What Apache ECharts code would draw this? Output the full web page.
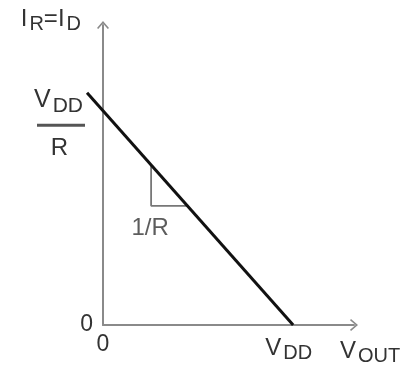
<!DOCTYPE html>
<html>
<head>
<meta charset="utf-8">
<script src="https://cdn.jsdelivr.net/npm/echarts@6/dist/echarts.min.js"></script>
<style>
  html, body { margin: 0; padding: 0; background: #fff; }
  #chart { width: 404px; height: 376px; }
</style>
</head>
<body>
<div id="chart"></div>
<script>
// Load line of a resistor: I = (VDD - VOUT) / R, with VDD = 1 and R = 1.
// Segment given as [x1, y1, x2, y2]; it starts slightly left of the I axis.
const loadLine = [[-0.084, 1.084, 1, 0]];
// Small slope triangle under the line (slope -1/R)
const slopeMarker = [[0.253, 0.747], [0.253, 0.556], [0.444, 0.556]];
const slopeLabelPoint = [[0.253, 0.556]];
const xTickValues = [0, 1];
const yTickValues = [0, 1];
const xTickLabels = ['0', '{v|V}{s|DD}{pad|}'];
const yTickLabels = ['0', '{gap|}\n{v|V}{s|DD}{padv|}\n{bar|}{pad|}\n{r|R}{pad|}'];

const axisGrey = '#8a8a8a';
const textGrey = '#333';
const fontFamily = 'Liberation Sans, Arial, sans-serif';
const chevron = 'path://M0,7 L6,0 L12,7 L10.8,8 L6,2.4 L1.2,8 Z';

const mainFont = { fontSize: 24, color: textGrey, fontFamily: fontFamily };
const subFont = { fontSize: 20, color: textGrey, fontFamily: fontFamily, padding: [10, 0, 0, 2] };

const chart = echarts.init(document.getElementById('chart'));
chart.setOption({
  animation: false,
  grid: { left: 103, right: 50, top: 25, bottom: 51 },
  xAxis: {
    type: 'value', min: 0, max: 1.32,
    name: '{v|V}{s|OUT}',
    nameLocation: 'end',
    nameGap: -14,
    nameTextStyle: {
      verticalAlign: 'top', padding: [11, 0, 0, 0],
      rich: { v: mainFont, s: subFont }
    },
    axisLine: { lineStyle: { color: axisGrey, width: 2 }, symbol: ['none', chevron], symbolSize: [12, 8] },
    axisTick: { show: false },
    splitLine: { show: false },
    axisLabel: {
      customValues: xTickValues,
      margin: 8,
      formatter: function (v) { return xTickLabels[xTickValues.indexOf(v)]; },
      color: textGrey, fontSize: 23, fontFamily: fontFamily,
      rich: { v: mainFont, s: subFont, pad: { width: 9 } }
    }
  },
  yAxis: {
    type: 'value', min: 0, max: 1.4,
    name: '{i|I}{s|R}{i|=I}{s|D}',
    nameLocation: 'end',
    nameGap: -9,
    nameTextStyle: {
      align: 'right', padding: [0, 22, 0, 0],
      rich: { i: mainFont, s: subFont }
    },
    axisLine: { lineStyle: { color: axisGrey, width: 2 }, symbol: ['none', chevron], symbolSize: [12, 8] },
    axisTick: { show: false },
    splitLine: { show: false },
    axisLabel: {
      customValues: yTickValues,
      margin: 10,
      formatter: function (v) { return yTickLabels[yTickValues.indexOf(v)]; },
      color: textGrey, fontSize: 23, fontFamily: fontFamily,
      align: 'right',
      rich: {
        gap: { lineHeight: 24, width: 1 },
        v: Object.assign({}, mainFont, { fontSize: 25, lineHeight: 28 }),
        s: Object.assign({}, subFont, { fontSize: 21, lineHeight: 28, padding: [13, 0, 0, 2] }),
        pad: { width: 8 },
        padv: { width: 10 },
        bar: { width: 48, height: 3, backgroundColor: '#555', lineHeight: 8 },
        r: Object.assign({}, mainFont, { align: 'center', lineHeight: 16, width: 48 })
      }
    }
  },
  series: [
    {
      type: 'custom',
      data: loadLine,
      clip: false,
      encode: { x: [0, 2], y: [1, 3] },
      z: 3,
      renderItem: function (params, api) {
        const p1 = api.coord([api.value(0), api.value(1)]);
        const p2 = api.coord([api.value(2), api.value(3)]);
        return {
          type: 'line',
          shape: { x1: p1[0], y1: p1[1], x2: p2[0], y2: p2[1] },
          style: { stroke: '#111', lineWidth: 3 }
        };
      }
    },
    {
      type: 'line', data: slopeMarker, clip: false, symbol: 'none',
      lineStyle: { color: '#777', width: 1.8 }, z: 2
    },
    {
      type: 'scatter', data: slopeLabelPoint, symbolSize: 0,
      label: {
        show: true, position: 'bottom', distance: 11, offset: [-1, 0],
        formatter: '1/R', color: textGrey, fontSize: 24, fontFamily: fontFamily
      }
    }
  ]
});
</script>
</body>
</html>
